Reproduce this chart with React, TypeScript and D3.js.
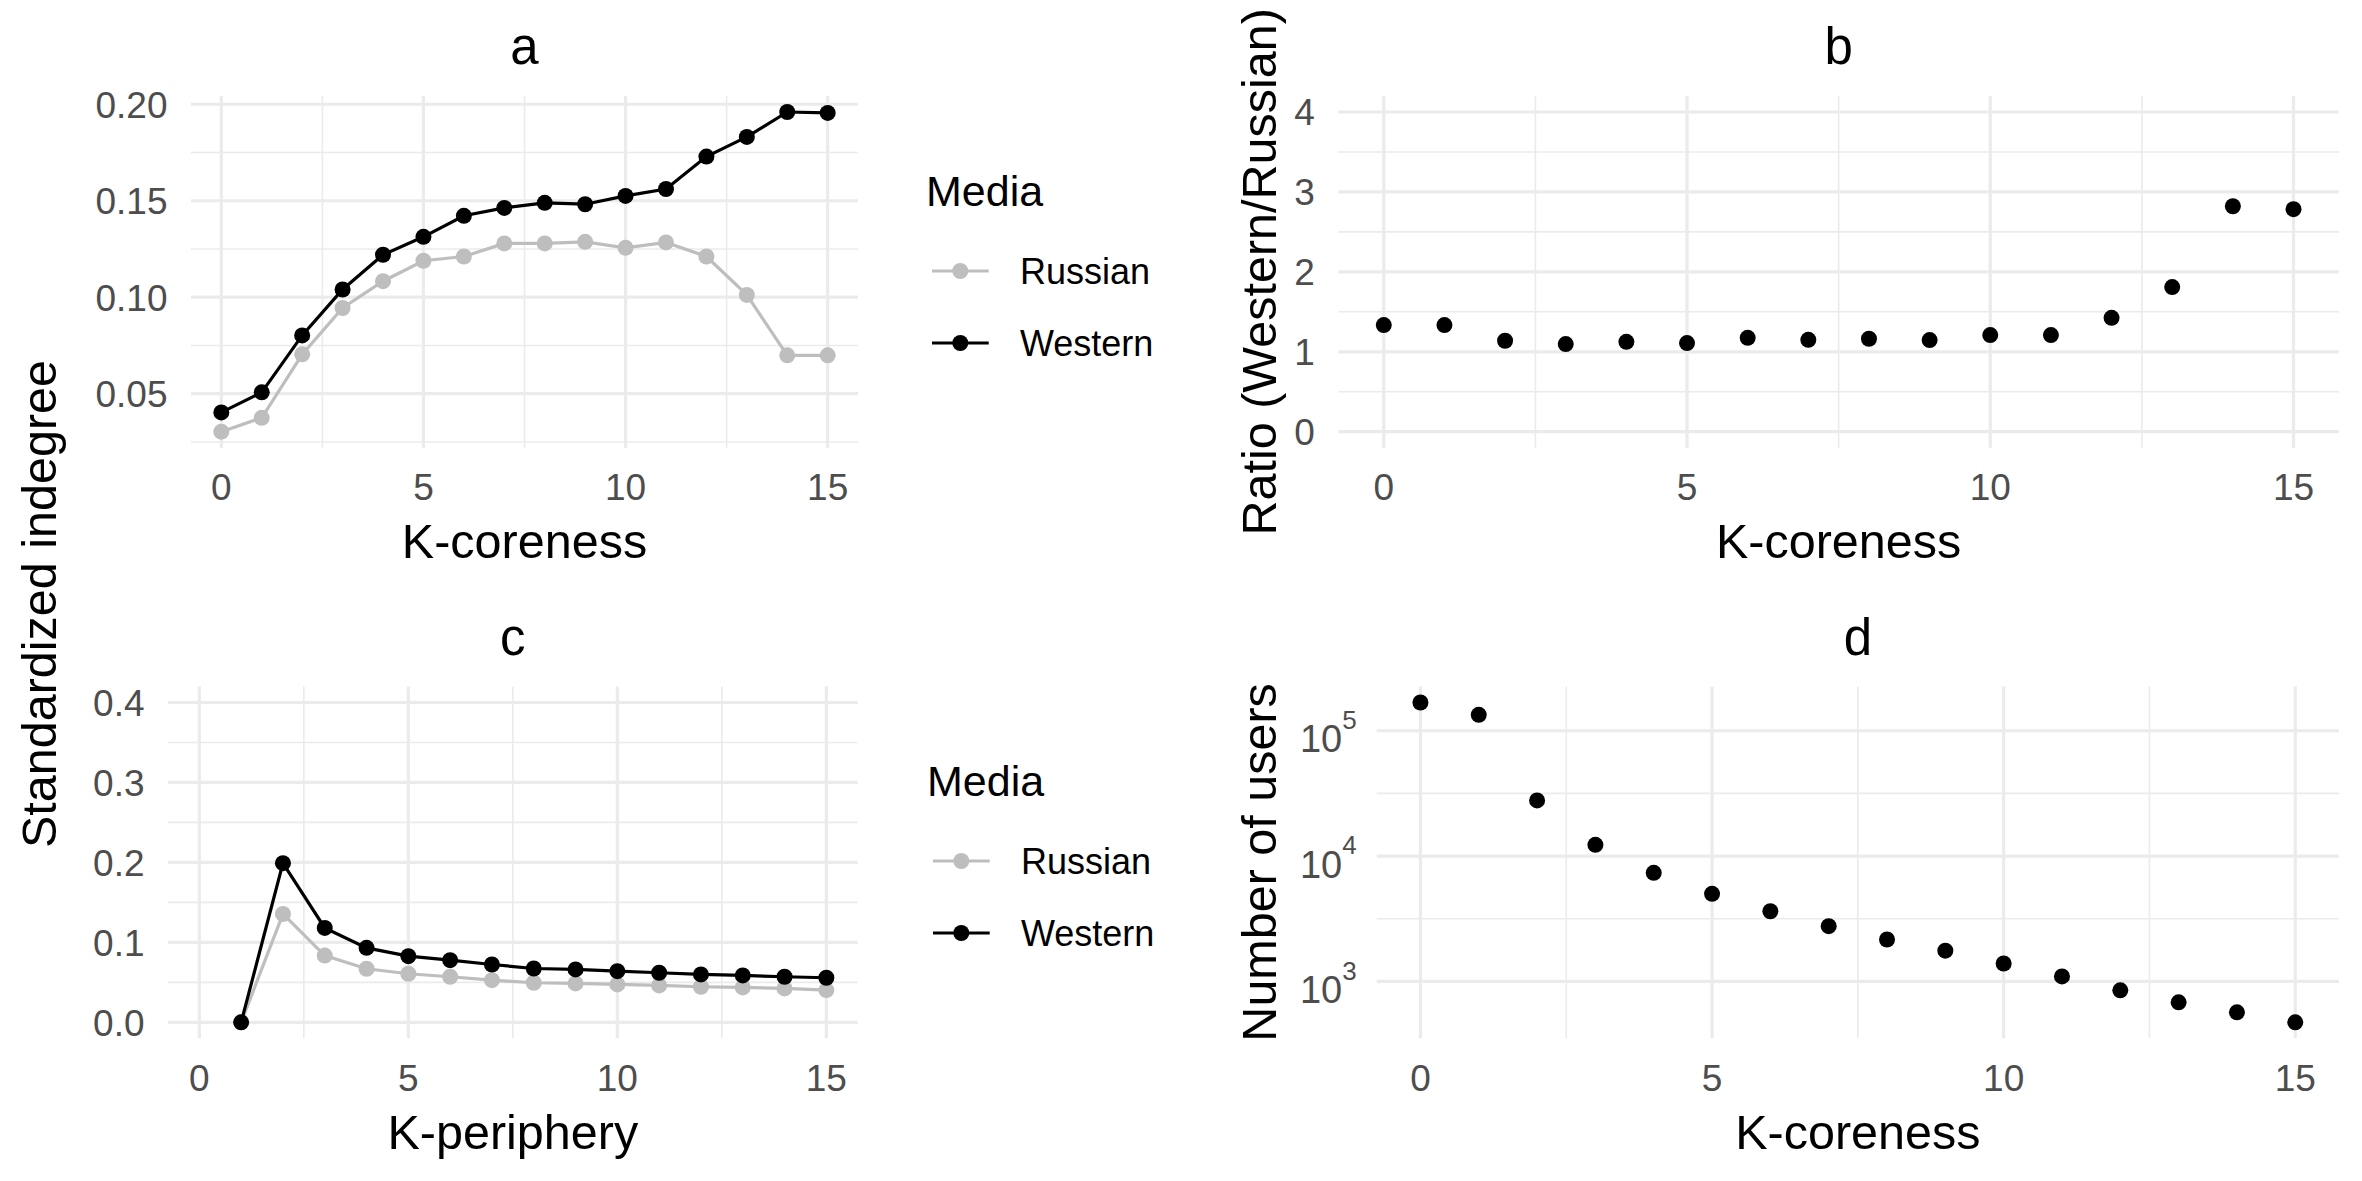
import React from "react";
import * as d3 from "d3";

// ---------- data ----------
const coreness = [0, 1, 2, 3, 4, 5, 6, 7, 8, 9, 10, 11, 12, 13, 14, 15];
const indegreeRussian = [0.0303, 0.0375, 0.0704, 0.0944, 0.1083, 0.1189, 0.1211, 0.1279, 0.1279, 0.1287, 0.1256, 0.1284, 0.1211, 0.1012, 0.0699, 0.0699];
const indegreeWestern = [0.0403, 0.0507, 0.0802, 0.104, 0.122, 0.1313, 0.1422, 0.1463, 0.1489, 0.1482, 0.1525, 0.1561, 0.1729, 0.1831, 0.196, 0.1955];
const ratioWR = [1.334, 1.334, 1.138, 1.096, 1.125, 1.109, 1.175, 1.15, 1.163, 1.146, 1.209, 1.209, 1.425, 1.809, 2.821, 2.784];

const periphery = [1, 2, 3, 4, 5, 6, 7, 8, 9, 10, 11, 12, 13, 14, 15];
const peripheryRussian = [0, 0.1355, 0.0835, 0.067, 0.0607, 0.057, 0.0527, 0.0495, 0.0486, 0.0474, 0.0461, 0.0445, 0.0436, 0.0424, 0.0403];
const peripheryWestern = [0, 0.199, 0.118, 0.0931, 0.0827, 0.0777, 0.0723, 0.0673, 0.0661, 0.064, 0.062, 0.0599, 0.0586, 0.057, 0.0557];

const usersByCoreness = [168000, 134000, 27800, 12300, 7350, 5000, 3630, 2760, 2160, 1760, 1390, 1096, 849, 681, 567, 472];

const xTicks = [0, 5, 10, 15];
const xMinorTicks = [2.5, 7.5, 12.5];
const yTicksA = [0.05, 0.1, 0.15, 0.2];
const yMinorA = [0.025, 0.075, 0.125, 0.175];
const yTicksB = [0, 1, 2, 3, 4];
const yMinorB = [0.5, 1.5, 2.5, 3.5];
const yTicksC = [0, 0.1, 0.2, 0.3, 0.4];
const yMinorC = [0.05, 0.15, 0.25, 0.35];
const yExpD = [3, 4, 5];
const yMinorExpD = [3.5, 4.5];

const seriesNames = ["Russian", "Western"];

// ---------- style ----------
const FONT = "'Liberation Sans', Arial, Helvetica, sans-serif";
const GRID = "#EBEBEB";
const TICK = "#4D4D4D";
const GREY = "#BEBEBE";
const BLACK = "#000000";
const MAJOR_W = 3.2;
const MINOR_W = 1.6;
const LINE_W = 3.2;
const PT_R = 8;
const TICK_FS = 37;
const AXIS_FS = 48.5;
const TITLE_FS = 51;
const LEG_TITLE_FS = 43;
const LEG_FS = 36;

type Box = { left: number; right: number; top: number; bottom: number };

const expand = (lo: number, hi: number) => {
  const d = (hi - lo) * 0.05;
  return [lo - d, hi + d];
};

const xDomain = expand(0, 15);

function frame(
  box: Box,
  x: (v: number) => number,
  y: (v: number) => number,
  yMajor: number[],
  yMinor: number[],
  yLabel: (v: number, i: number) => React.ReactNode,
  title: string,
  xTitle: string,
  key: string
) {
  const cx = (box.left + box.right) / 2;
  return (
    <g key={key}>
      {xMinorTicks.map((v) => (
        <line key={"xm" + v} x1={x(v)} x2={x(v)} y1={box.top} y2={box.bottom} stroke={GRID} strokeWidth={MINOR_W} />
      ))}
      {yMinor.map((v) => (
        <line key={"ym" + v} x1={box.left} x2={box.right} y1={y(v)} y2={y(v)} stroke={GRID} strokeWidth={MINOR_W} />
      ))}
      {xTicks.map((v) => (
        <line key={"xM" + v} x1={x(v)} x2={x(v)} y1={box.top} y2={box.bottom} stroke={GRID} strokeWidth={MAJOR_W} />
      ))}
      {yMajor.map((v) => (
        <line key={"yM" + v} x1={box.left} x2={box.right} y1={y(v)} y2={y(v)} stroke={GRID} strokeWidth={MAJOR_W} />
      ))}
      {xTicks.map((v) => (
        <text key={"xl" + v} x={x(v)} y={box.bottom + 52.3} textAnchor="middle" fontSize={TICK_FS} fill={TICK} fontFamily={FONT}>
          {v}
        </text>
      ))}
      {yMajor.map((v, i) => yLabel(v, i))}
      <text x={cx} y={box.top - 32} textAnchor="middle" fontSize={TITLE_FS} fill={BLACK} fontFamily={FONT}>
        {title}
      </text>
      <text x={cx} y={box.bottom + 110.6} textAnchor="middle" fontSize={AXIS_FS} fill={BLACK} fontFamily={FONT}>
        {xTitle}
      </text>
    </g>
  );
}

function legend(left: number, titleBaseline: number) {
  const keyYs = [titleBaseline + 65, titleBaseline + 137];
  const colors = [GREY, BLACK];
  return (
    <g>
      <text x={left} y={titleBaseline} fontSize={LEG_TITLE_FS} fill={BLACK} fontFamily={FONT}>
        Media
      </text>
      {seriesNames.map((name, i) => (
        <g key={name}>
          <line x1={left + 6} x2={left + 62.7} y1={keyYs[i]} y2={keyYs[i]} stroke={colors[i]} strokeWidth={LINE_W} />
          <circle cx={left + 34.3} cy={keyYs[i]} r={PT_R} fill={colors[i]} />
          <text x={left + 94} y={keyYs[i]} dy="0.36em" fontSize={LEG_FS} fill={BLACK} fontFamily={FONT}>
            {name}
          </text>
        </g>
      ))}
    </g>
  );
}

export default function App() {
  const W = 2362;
  const H = 1181;

  // panel boxes
  const boxA: Box = { left: 191, right: 858, top: 96, bottom: 447.7 };
  const boxB: Box = { left: 1338.3, right: 2339, top: 96, bottom: 447.7 };
  const boxC: Box = { left: 168, right: 857.7, top: 686.5, bottom: 1038.3 };
  const boxD: Box = { left: 1376.7, right: 2339, top: 686.5, bottom: 1038.3 };

  // scales
  const xA = d3.scaleLinear().domain(xDomain).range([boxA.left, boxA.right]);
  const allA = indegreeRussian.concat(indegreeWestern);
  const yA = d3.scaleLinear().domain(expand(d3.min(allA)!, d3.max(allA)!)).range([boxA.bottom, boxA.top]);

  const xB = d3.scaleLinear().domain(xDomain).range([boxB.left, boxB.right]);
  const yB = d3.scaleLinear().domain(expand(0, 4)).range([boxB.bottom, boxB.top]);

  const xC = d3.scaleLinear().domain(xDomain).range([boxC.left, boxC.right]);
  const yC = d3.scaleLinear().domain(expand(0, 0.4)).range([boxC.bottom, boxC.top]);

  const xD = d3.scaleLinear().domain(xDomain).range([boxD.left, boxD.right]);
  const logExt = expand(Math.log10(d3.min(usersByCoreness)!), Math.log10(d3.max(usersByCoreness)!));
  const yD = d3.scaleLog().domain([Math.pow(10, logExt[0]), Math.pow(10, logExt[1])]).range([boxD.bottom, boxD.top]);

  const lineA = d3.line<number>().x((_, i) => xA(coreness[i])).y((d) => yA(d));
  const lineC = d3.line<number>().x((_, i) => xC(periphery[i])).y((d) => yC(d));

  const fmt2 = d3.format(".2f");
  const fmt1 = d3.format(".1f");

  const yLabelLinear = (box: Box, y: (v: number) => number, f: (v: number) => string) => (v: number) => (
    <text key={"yl" + v} x={box.left - 23.5} y={y(v)} dy="0.36em" textAnchor="end" fontSize={TICK_FS} fill={TICK} fontFamily={FONT}>
      {f(v)}
    </text>
  );

  const yLabelLog = (v: number) => (
    <text key={"yl" + v} x={boxD.left - 20} y={yD(Math.pow(10, v)) + 21.7} textAnchor="end" fontSize={TICK_FS + 1} fill={TICK} fontFamily={FONT}>
      10
      <tspan dy={-23.5} fontSize={26}>
        {v}
      </tspan>
    </text>
  );

  return (
    <svg width={W} height={H} viewBox={`0 0 ${W} ${H}`} style={{ position: "absolute", left: 0, top: 0, background: "#ffffff" }}>
      <rect x={0} y={0} width={W} height={H} fill="#ffffff" />

      {/* Panel a */}
      {frame(boxA, xA, yA, yTicksA, yMinorA, yLabelLinear(boxA, yA, fmt2), "a", "K-coreness", "fa")}
      <path d={lineA(indegreeRussian)!} fill="none" stroke={GREY} strokeWidth={LINE_W} />
      {indegreeRussian.map((v, i) => (
        <circle key={"ar" + i} cx={xA(coreness[i])} cy={yA(v)} r={PT_R} fill={GREY} />
      ))}
      <path d={lineA(indegreeWestern)!} fill="none" stroke={BLACK} strokeWidth={LINE_W} />
      {indegreeWestern.map((v, i) => (
        <circle key={"aw" + i} cx={xA(coreness[i])} cy={yA(v)} r={PT_R} fill={BLACK} />
      ))}
      {legend(926, 206)}

      {/* Panel b */}
      {frame(boxB, xB, yB, yTicksB, yMinorB, yLabelLinear(boxB, yB, (v) => String(v)), "b", "K-coreness", "fb")}
      {ratioWR.map((v, i) => (
        <circle key={"b" + i} cx={xB(coreness[i])} cy={yB(v)} r={PT_R} fill={BLACK} />
      ))}
      <text
        transform={`translate(1276, ${(boxB.top + boxB.bottom) / 2}) rotate(-90)`}
        textAnchor="middle"
        fontSize={AXIS_FS}
        fill={BLACK}
        fontFamily={FONT}
      >
        Ratio (Western/Russian)
      </text>

      {/* Panel c */}
      {frame(boxC, xC, yC, yTicksC, yMinorC, yLabelLinear(boxC, yC, fmt1), "c", "K-periphery", "fc")}
      <path d={lineC(peripheryRussian)!} fill="none" stroke={GREY} strokeWidth={LINE_W} />
      {peripheryRussian.map((v, i) => (
        <circle key={"cr" + i} cx={xC(periphery[i])} cy={yC(v)} r={PT_R} fill={GREY} />
      ))}
      <path d={lineC(peripheryWestern)!} fill="none" stroke={BLACK} strokeWidth={LINE_W} />
      {peripheryWestern.map((v, i) => (
        <circle key={"cw" + i} cx={xC(periphery[i])} cy={yC(v)} r={PT_R} fill={BLACK} />
      ))}
      {legend(927, 796)}

      {/* Panel d */}
      {frame(
        boxD,
        xD,
        (e: number) => yD(Math.pow(10, e)),
        yExpD,
        yMinorExpD,
        yLabelLog,
        "d",
        "K-coreness",
        "fd"
      )}
      {usersByCoreness.map((v, i) => (
        <circle key={"d" + i} cx={xD(coreness[i])} cy={yD(v)} r={PT_R} fill={BLACK} />
      ))}
      <text
        transform={`translate(1276, ${(boxD.top + boxD.bottom) / 2}) rotate(-90)`}
        textAnchor="middle"
        fontSize={AXIS_FS}
        fill={BLACK}
        fontFamily={FONT}
      >
        Number of users
      </text>

      {/* shared y title */}
      <text transform={`translate(56, 604) rotate(-90)`} textAnchor="middle" fontSize={AXIS_FS} fill={BLACK} fontFamily={FONT}>
        Standardized indegree
      </text>
    </svg>
  );
}
